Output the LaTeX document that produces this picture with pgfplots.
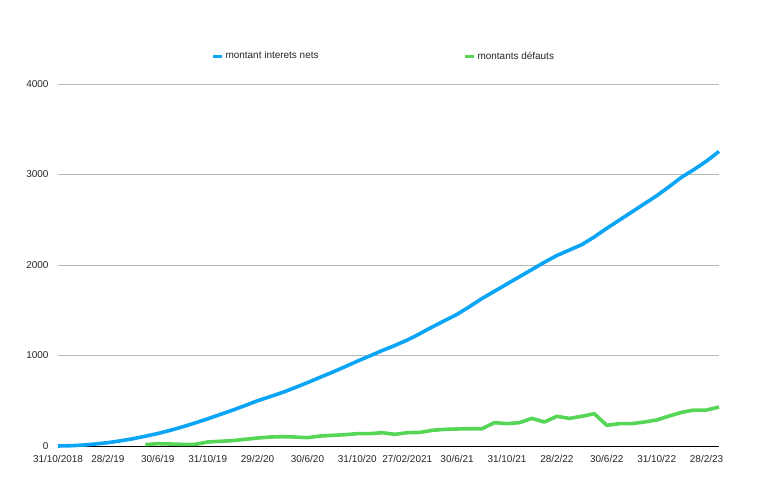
\documentclass[border=0pt]{standalone}
\usepackage{pgfplots}
\pgfplotsset{compat=1.18}
\usepackage{fontspec}
\setmainfont{Liberation Sans}
\definecolor{cblue}{RGB}{10,165,245}
\definecolor{cgreen}{RGB}{86,214,86}
\definecolor{cgrid}{RGB}{185,185,185}
\begin{document}
\begin{tikzpicture}[x=1bp,y=1bp]
\path[use as bounding box] (0,0) rectangle (767,498);
\begin{axis}[
  at={(58bp,52bp)}, anchor=south west,
  scale only axis, width=661bp, height=362bp,
  xmin=0, xmax=53, ymin=0, ymax=4000,
  xtick={0,4,...,52},
  xticklabels={31/10/2018,28/2/19,30/6/19,31/10/19,29/2/20,30/6/20,31/10/20,27/02/2021,30/6/21,31/10/21,28/2/22,30/6/22,31/10/22,28/2/23},
  ytick={0,1000,2000,3000,4000},
  scaled y ticks=false,
  /pgf/number format/assume math mode=true,
  /pgf/number format/1000 sep={},
  ymajorgrids, grid style={cgrid, line width=0.8bp},
  major tick length=0pt,
  axis x line*=bottom, axis y line*=left,
  y axis line style={draw=none},
  x axis line style={black, line width=0.9bp, -},
  tick label style={font=\fontsize{10}{12}\selectfont, text=black!85},
  xticklabel style={yshift=-6bp},
  yticklabel style={xshift=-6bp},
  clip=false,
  legend columns=2,
  legend style={draw=none, fill=none, inner sep=0pt, at={(0.232,1.077)}, anchor=west,
    font=\fontsize{10}{12}\selectfont, text=black!85,
    /tikz/every even column/.append style={column sep=143bp}},
  legend image code/.code={\draw[line width=3bp] (0bp,0bp) -- (9bp,0bp);},
]
\addplot[cblue, line width=3.6bp, line join=round] coordinates {
(0,0) (1,3) (2,10) (3,22) (4,37) (5,57) (6,80) (7,108) (8,138) (9,173)
(10,212) (11,255) (12,300) (13,348) (14,396) (15,447) (16,500) (17,545) (18,592) (19,645)
(20,700) (21,758) (22,815) (23,875) (24,937) (25,995) (26,1055) (27,1110) (28,1170) (29,1240)
(30,1315) (31,1385) (32,1455) (33,1540) (34,1630) (35,1710) (36,1790) (37,1870) (38,1950) (39,2030)
(40,2105) (41,2165) (42,2225) (43,2310) (44,2405) (45,2495) (46,2585) (47,2675) (48,2765) (49,2865)
(50,2970) (51,3055) (52,3148) (53,3255)
};
\addlegendentry{montant interets nets}
\addplot[cgreen, line width=3.6bp, line join=round] coordinates {
(7,15) (8,26) (9,22) (10,18) (11,18) (12,44) (13,52) (14,59) (15,74) (16,88)
(17,99) (18,103) (19,99) (20,92) (21,110) (22,118) (23,125) (24,136) (25,136) (26,147)
(27,129) (28,147) (29,150) (30,173) (31,184) (32,188) (33,191) (34,191) (35,258) (36,247)
(37,258) (38,305) (39,265) (40,328) (41,305) (42,328) (43,357) (44,228) (45,247) (46,247)
(47,265) (48,287) (49,331) (50,372) (51,397) (52,397) (53,431)
};
\addlegendentry{montants défauts}
\end{axis}
\end{tikzpicture}
\end{document}
